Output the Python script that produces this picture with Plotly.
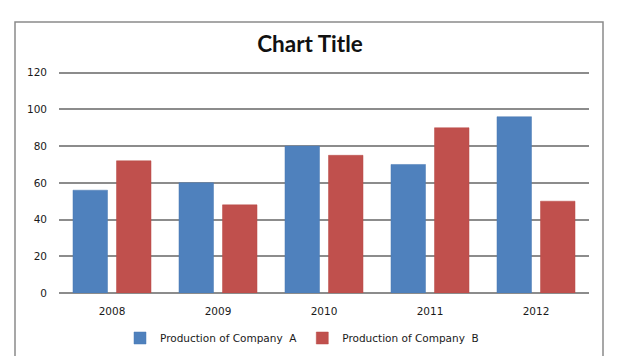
import plotly.graph_objects as go

years = ["2008", "2009", "2010", "2011", "2012"]
company_a = [56, 60, 80, 70, 96]
company_b = [72, 48, 75, 90, 50]
y_ticks = [0, 20, 40, 60, 80, 100, 120]

# page body adds an 8px offset; the figure is sized so the chart lands where the reference has it
W, H = 632, 348
L, R, T, B = 51, 51, 61, 63
pw, ph = W - L - R, H - T - B
FONT = "DejaVu Sans, sans-serif"
TXT = "#1a1a1a"

fig = go.Figure()
fig.add_trace(go.Bar(x=years, y=company_a, name="Production of Company  A",
                     marker=dict(color="#4F81BD", line=dict(color="#4A7AB5", width=0.5))))
fig.add_trace(go.Bar(x=years, y=company_b, name="Production of Company  B",
                     marker=dict(color="#C0504D", line=dict(color="#B84A47", width=0.5))))

fig.update_layout(
    width=W, height=H,
    margin=dict(l=L, r=R, t=T, b=B, autoexpand=False),
    paper_bgcolor="white", plot_bgcolor="white",
    barmode="group", bargap=0.179, bargroupgap=0.207,
    font=dict(family=FONT, color=TXT, size=10.5),
    title=dict(text="<b>Chart Title</b>", x=302 / W, xanchor="center",
               y=1 - 36 / H, yanchor="middle",
               font=dict(family="Lato, DejaVu Sans, sans-serif", size=22.5, color="#111")),
    showlegend=True,
    legend=dict(orientation="h", x=294 / W, xanchor="center", xref="container",
                y=1 - 330 / H, yanchor="middle", yref="container",
                font=dict(size=10.5, family=FONT, color=TXT), itemwidth=30,
                traceorder="normal"),
    xaxis=dict(showgrid=False, showline=False, ticks="", automargin=False,
               ticklabelstandoff=10, tickfont=dict(size=10.5, family=FONT, color=TXT)),
    yaxis=dict(range=[0, 122], tickvals=y_ticks, showgrid=True, gridcolor="#8c8c8c",
               gridwidth=1.5, zeroline=True, zerolinecolor="#8c8c8c", zerolinewidth=1.5,
               showline=False, ticks="", automargin=False, ticklabelstandoff=11,
               tickfont=dict(size=10.5, family=FONT, color=TXT)),
)

fig.add_shape(type="rect", xref="paper", yref="paper",
              x0=(7 - L) / pw, x1=(595 - L) / pw,
              y0=(285 - 370) / ph, y1=(285 - 14) / ph,
              line=dict(color="#8a8a8a", width=1.5), fillcolor="rgba(0,0,0,0)", layer="below")

fig.write_html("out.html")
